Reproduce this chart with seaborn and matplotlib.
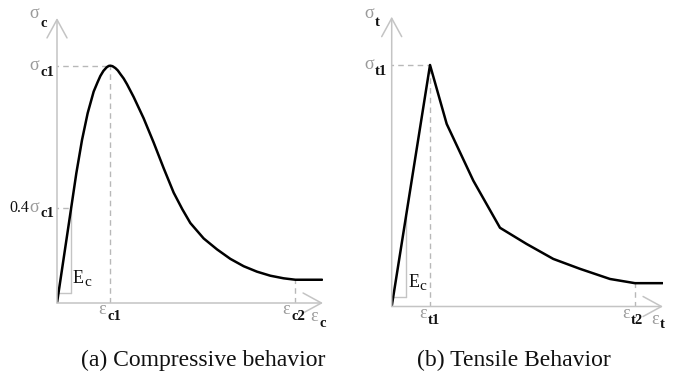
import numpy as np
import pandas as pd
import matplotlib
matplotlib.use("Agg")
import matplotlib.pyplot as plt
import seaborn as sns

# compressive curve (strain / eps_c1, stress / sigma_c1)
comp_strain = [0, 0.2625, 0.3625, 0.469, 0.575, 0.6875, 0.76, 0.8125, 0.87, 0.93,
               0.97, 1.0, 1.04, 1.094, 1.14, 1.1875, 1.25, 1.3125, 1.4375, 1.625,
               1.8125, 2.0, 2.1875, 2.35, 2.5, 2.75, 3.0, 3.25, 3.5, 3.75, 4.0,
               4.25, 4.469, 4.97]
comp_stress = [0, 0.3955, 0.547, 0.687, 0.80, 0.891, 0.930, 0.9565, 0.978, 0.993,
               0.999, 1.0, 0.998, 0.990, 0.980, 0.965, 0.946, 0.922, 0.868, 0.778,
               0.676, 0.568, 0.465, 0.395, 0.337, 0.272, 0.226, 0.186, 0.155, 0.132,
               0.115, 0.104, 0.098, 0.098]

# tensile curve (strain / eps_t1, stress / sigma_t1)
tens_strain = [0, 1.0, 1.435, 2.13, 2.826, 3.52, 4.217, 4.913, 5.696, 6.348, 7.07]
tens_stress = [0, 1.0, 0.756, 0.521, 0.326, 0.259, 0.197, 0.156, 0.114, 0.0966, 0.0966]

eps_c2 = 4.469
eps_t2 = 6.348
ec_c = (0.2625, 0.042)   # foot of the E_c slope triangle
ec_t = (0.374, 0.041)

captions = ["(a) Compressive behavior", "(b) Tensile Behavior"]

sns.set_theme(style="white")
plt.rcParams["font.family"] = ["Liberation Serif", "DejaVu Serif"]

AX = "#c4c4c4"
DASH = "#b8b8b8"
GREEK = "#9a9a9a"
INK = "#111111"

fig = plt.figure(figsize=(6.78, 3.77), dpi=100)
axc = fig.add_axes([57 / 678, 74 / 377, 266 / 678, 285 / 377])
axt = fig.add_axes([391.7 / 678, 70.5 / 377, 271.3 / 678, 289.8 / 377])
axc.set_xlim(0, 4.9875)
axc.set_ylim(0, 1.201)
axt.set_xlim(0, 7.08)
axt.set_ylim(0, 1.2)


def frame(ax):
    ax.set_axis_off()
    x1 = ax.get_xlim()[1]
    y1 = ax.get_ylim()[1]
    arrow = dict(arrowstyle="->,head_length=1.1,head_width=0.6", color=AX,
                 lw=1.1, shrinkA=0, shrinkB=0)
    ax.annotate("", xy=(x1, 0), xytext=(0, 0), arrowprops=arrow, annotation_clip=False)
    ax.annotate("", xy=(0, y1), xytext=(0, 0), arrowprops=arrow, annotation_clip=False)


def label(ax, x, y, greek, sub, dx, gdy, sdy, pre=""):
    kw = dict(xy=(x, y), textcoords="offset pixels", annotation_clip=False, va="baseline")
    ax.annotate(greek, xytext=(dx, gdy), ha="right", color=GREEK, fontsize=13, **kw)
    ax.annotate(sub, xytext=(dx + 1, sdy), ha="left", color=INK, fontsize=10.5,
                fontweight="bold", **kw)
    if pre:
        ax.annotate(pre, xytext=(dx - 10, gdy), ha="right", color=INK, fontsize=11.5, **kw)


def slope_mark(ax, foot, slope):
    xf, yb = foot
    ax.plot([xf, xf], [yb, slope * xf], color=AX, lw=1)
    ax.plot([yb / slope, xf], [yb, yb], color=AX, lw=1)
    kw = dict(xy=foot, textcoords="offset pixels", annotation_clip=False, va="baseline")
    ax.annotate("E", xytext=(2, 10), ha="left", color=INK, fontsize=13, **kw)
    ax.annotate("c", xytext=(13, 7), ha="left", color=INK, fontsize=11, **kw)


dash = dict(color=DASH, lw=1, ls=(0, (4, 3)))

# compressive panel
frame(axc)
axc.plot([-0.08, 1], [1, 1], **dash)
axc.plot([1, 1], [0, 1], **dash)
axc.plot([-0.08, ec_c[0]], [0.4, 0.4], **dash)
axc.plot([eps_c2, eps_c2], [0, comp_stress[-1]], **dash)
slope_mark(axc, ec_c, comp_stress[1] / comp_strain[1])
sns.lineplot(x=comp_strain, y=comp_stress, ax=axc, color="black", lw=1.8,
             sort=False, estimator=None)
label(axc, 0, 1.201, "σ", "c", -18, 0, -9)
label(axc, 0, 1, "σ", "c1", -18, -4, -10)
label(axc, 0, 0.4, "σ", "c1", -18, -4, -9, pre="0.4")
label(axc, 1, 0, "ε", "c1", -4, -11, -17)
label(axc, eps_c2, 0, "ε", "c2", -5, -11, -17)
label(axc, 4.9875, 0, "ε", "c", -5, -18, -24)

# tensile panel
frame(axt)
axt.plot([-0.1, 1], [1, 1], **dash)
axt.plot([1, 1], [0, 1], **dash)
axt.plot([eps_t2, eps_t2], [0, tens_stress[-1]], **dash)
slope_mark(axt, ec_t, tens_stress[1] / tens_strain[1])
sns.lineplot(x=tens_strain, y=tens_stress, ax=axt, color="black", lw=1.8,
             sort=False, estimator=None)
label(axt, 0, 1.2, "σ", "t", -18, -1, -9)
label(axt, 0, 1, "σ", "t1", -18, -4, -10)
label(axt, 1, 0, "ε", "t1", -3, -11, -17)
label(axt, eps_t2, 0, "ε", "t2", -5, -11, -17)
label(axt, 7.08, 0, "ε", "t", -4, -17, -22)

fig.text(203.5 / 678, 17 / 377, captions[0], ha="center", va="center", fontsize=17, color=INK)
fig.text(513.5 / 678, 17 / 377, captions[1], ha="center", va="center", fontsize=17, color=INK)

fig.savefig("out.png", dpi=100)
